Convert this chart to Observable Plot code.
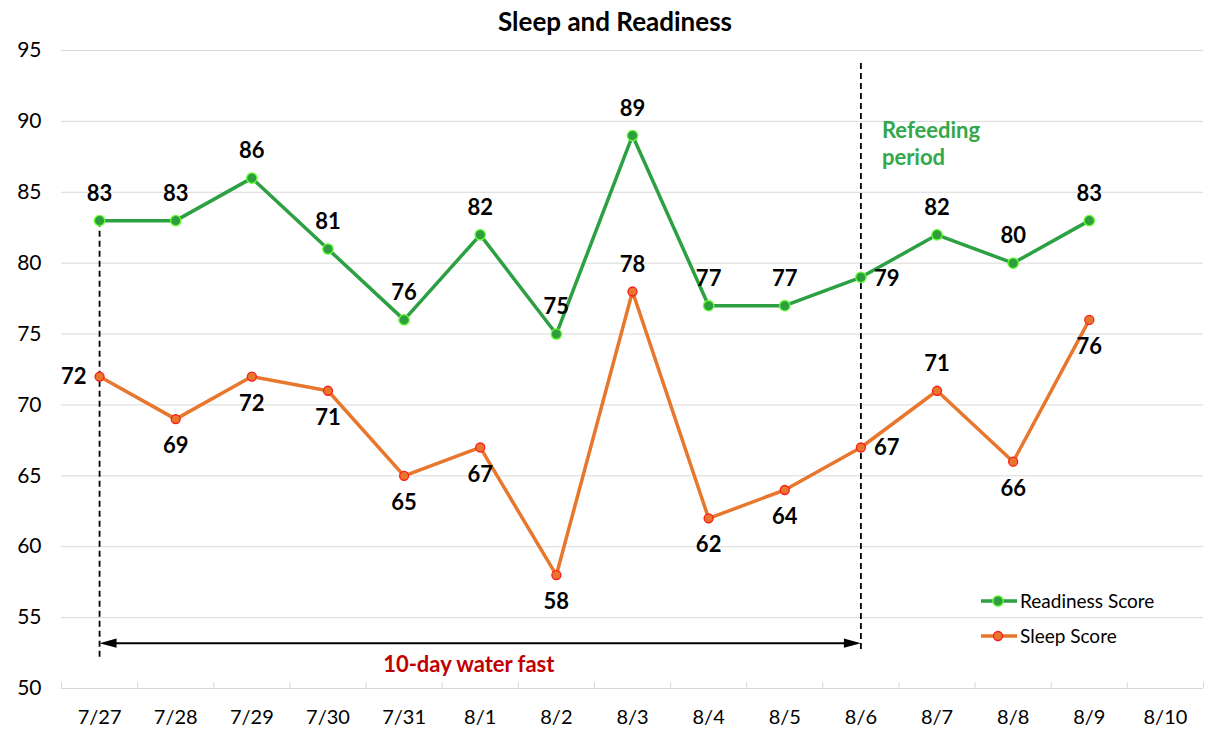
<!DOCTYPE html>
<html><head><meta charset="utf-8">
<script src="https://cdn.jsdelivr.net/npm/d3@7"></script>
<script src="https://cdn.jsdelivr.net/npm/@observablehq/plot@0.6"></script>
<style>
body{margin:0;background:#fff;font-family:Lato,"Open Sans",sans-serif;}
#wrap{position:relative;width:1223px;height:734px;overflow:hidden;}
#title{position:absolute;top:5px;left:0;width:1230px;text-align:center;font-weight:bold;font-size:26px;color:#000;z-index:2;}
#chart{position:absolute;top:28px;left:0;}
.leg{position:absolute;left:981px;display:flex;align-items:center;font-size:19px;color:#000;}
.leg svg{margin-right:3px;}
</style></head>
<body><div id="wrap">
<div id="chart"></div>
<div id="title">Sleep and Readiness</div>
<div class="leg" style="top:589px"><svg width="36" height="14"><line x1="0" x2="36" y1="7" y2="7" stroke="#2CA043" stroke-width="3.5"/><circle cx="17" cy="7" r="5.2" fill="#2E9E3E" stroke="#66FF33" stroke-width="1.3"/></svg>Readiness Score</div>
<div class="leg" style="top:624px"><svg width="36" height="14"><line x1="0" x2="36" y1="7" y2="7" stroke="#E8772E" stroke-width="3.5"/><circle cx="17" cy="7" r="4.5" fill="#E8772E" stroke="#FF1A1A" stroke-width="1.3"/></svg>Sleep Score</div>
</div>
<script>
const dates = ["7/27","7/28","7/29","7/30","7/31","8/1","8/2","8/3","8/4","8/5","8/6","8/7","8/8","8/9","8/10"];
const readiness = [83,83,86,81,76,82,75,89,77,77,79,82,80,83];
const sleep = [72,69,72,71,65,67,58,78,62,64,67,71,66,76];
const yTicks = [50,55,60,65,70,75,80,85,90,95];

// label placement (index lists)
const readinessRight = [10];
const sleepLeft = [0];
const sleepRight = [10];
const sleepAbove = [7,11];

// annotations (data units)
const fastStartIdx = 0, fastEndIdx = 10;
const fastStartLine = [52.2, 83];
const fastEndLine = [52.75, 94.3];
const arrowY = 53.2;
const fastLabel = {x: 4.85, y: 51.65, text: "10-day water fast"};
const refeedLabel = {x: 10, y1: 89.35, y2: 87.4, l1: "Refeeding", l2: "period"};

const GREEN = "#2CA043", ORANGE = "#E8772E";

const headRight = {draw(ctx){ctx.moveTo(0,0);ctx.lineTo(-17,-4.6);ctx.lineTo(-17,4.6);ctx.closePath();}};
const headLeft = {draw(ctx){ctx.moveTo(0,0);ctx.lineTo(17,-4.6);ctx.lineTo(17,4.6);ctx.closePath();}};

const ri = d3.range(readiness.length);
const si = d3.range(sleep.length);
const bounds = d3.range(dates.length + 1).map(i => i - 0.5);

const labelStyle = {fontSize: 22, fontWeight: "bold", fill: "#000", fontFamily: "Lato"};

const chart = Plot.plot({
  width: 1223, height: 706,
  marginLeft: 61, marginRight: 20, marginTop: 22, marginBottom: 46,
  style: {fontFamily: "Lato", background: "transparent", overflow: "visible"},
  x: {domain: [-0.5, dates.length - 0.5]},
  y: {domain: [50, 95]},
  marks: [
    Plot.gridY(yTicks, {stroke: "#d9d9d9", strokeOpacity: 1, strokeWidth: 1}),
    Plot.ruleX(bounds, {y1: 50, y2: 50, insetTop: -6, stroke: "#d9d9d9", strokeWidth: 1}),
    Plot.axisY(yTicks, {tickSize: 0, tickPadding: 20, fontSize: 21, fill: "#000", label: null}),
    Plot.axisX(d3.range(dates.length), {tickSize: 0, tickPadding: 21, fontSize: 20, fill: "#000", label: null, tickFormat: i => dates[i]}),
    // dashed period lines
    Plot.ruleX([fastStartIdx], {y1: fastStartLine[0], y2: fastStartLine[1], stroke: "#000", strokeWidth: 1.8, strokeDasharray: "6,4"}),
    Plot.ruleX([fastEndIdx], {y1: fastEndLine[0], y2: fastEndLine[1], stroke: "#000", strokeWidth: 1.8, strokeDasharray: "6,4"}),
    // arrow
    Plot.ruleY([arrowY], {x1: fastStartIdx, x2: fastEndIdx, stroke: "#000", strokeWidth: 2, insetLeft: 6, insetRight: 6}),
    Plot.dot([fastStartIdx], {x: d => d, y: () => arrowY, symbol: headLeft, fill: "#000", stroke: "none", r: 5}),
    Plot.dot([fastEndIdx], {x: d => d, y: () => arrowY, symbol: headRight, fill: "#000", stroke: "none", r: 5}),
    Plot.text([fastLabel], {x: "x", y: "y", text: "text", fill: "#C00000", fontSize: 22, fontWeight: "bold", fontFamily: "Lato"}),
    Plot.text([refeedLabel], {x: "x", y: "y1", text: "l1", dx: 21, textAnchor: "start", fill: "#33A84A", fontSize: 22, fontWeight: "bold", fontFamily: "Lato"}),
    Plot.text([refeedLabel], {x: "x", y: "y2", text: "l2", dx: 21, textAnchor: "start", fill: "#33A84A", fontSize: 22, fontWeight: "bold", fontFamily: "Lato"}),
    // series
    Plot.line(si, {x: i => i, y: i => sleep[i], stroke: ORANGE, strokeWidth: 3.5}),
    Plot.line(ri, {x: i => i, y: i => readiness[i], stroke: GREEN, strokeWidth: 3.5}),
    Plot.dot(si, {x: i => i, y: i => sleep[i], fill: ORANGE, stroke: "#FF1A1A", strokeWidth: 1.3, r: 4.5}),
    Plot.dot(ri, {x: i => i, y: i => readiness[i], fill: "#2E9E3E", stroke: "#66FF33", strokeWidth: 1.3, r: 5.2}),
    // value labels
    Plot.text(ri.filter(i => !readinessRight.includes(i)), {x: i => i, y: i => readiness[i], text: i => String(readiness[i]), dy: -27, ...labelStyle}),
    Plot.text(readinessRight, {x: i => i, y: i => readiness[i], text: i => String(readiness[i]), dx: 13, dy: 2, textAnchor: "start", ...labelStyle}),
    Plot.text(si.filter(i => !sleepLeft.includes(i) && !sleepRight.includes(i) && !sleepAbove.includes(i)), {x: i => i, y: i => sleep[i], text: i => String(sleep[i]), dy: 27, ...labelStyle}),
    Plot.text(sleepAbove, {x: i => i, y: i => sleep[i], text: i => String(sleep[i]), dy: -27, ...labelStyle}),
    Plot.text(sleepLeft, {x: i => i, y: i => sleep[i], text: i => String(sleep[i]), dx: -13, textAnchor: "end", ...labelStyle}),
    Plot.text(sleepRight, {x: i => i, y: i => sleep[i], text: i => String(sleep[i]), dx: 13, textAnchor: "start", ...labelStyle})
  ]
});
document.getElementById("chart").appendChild(chart);
</script>
</body></html>
